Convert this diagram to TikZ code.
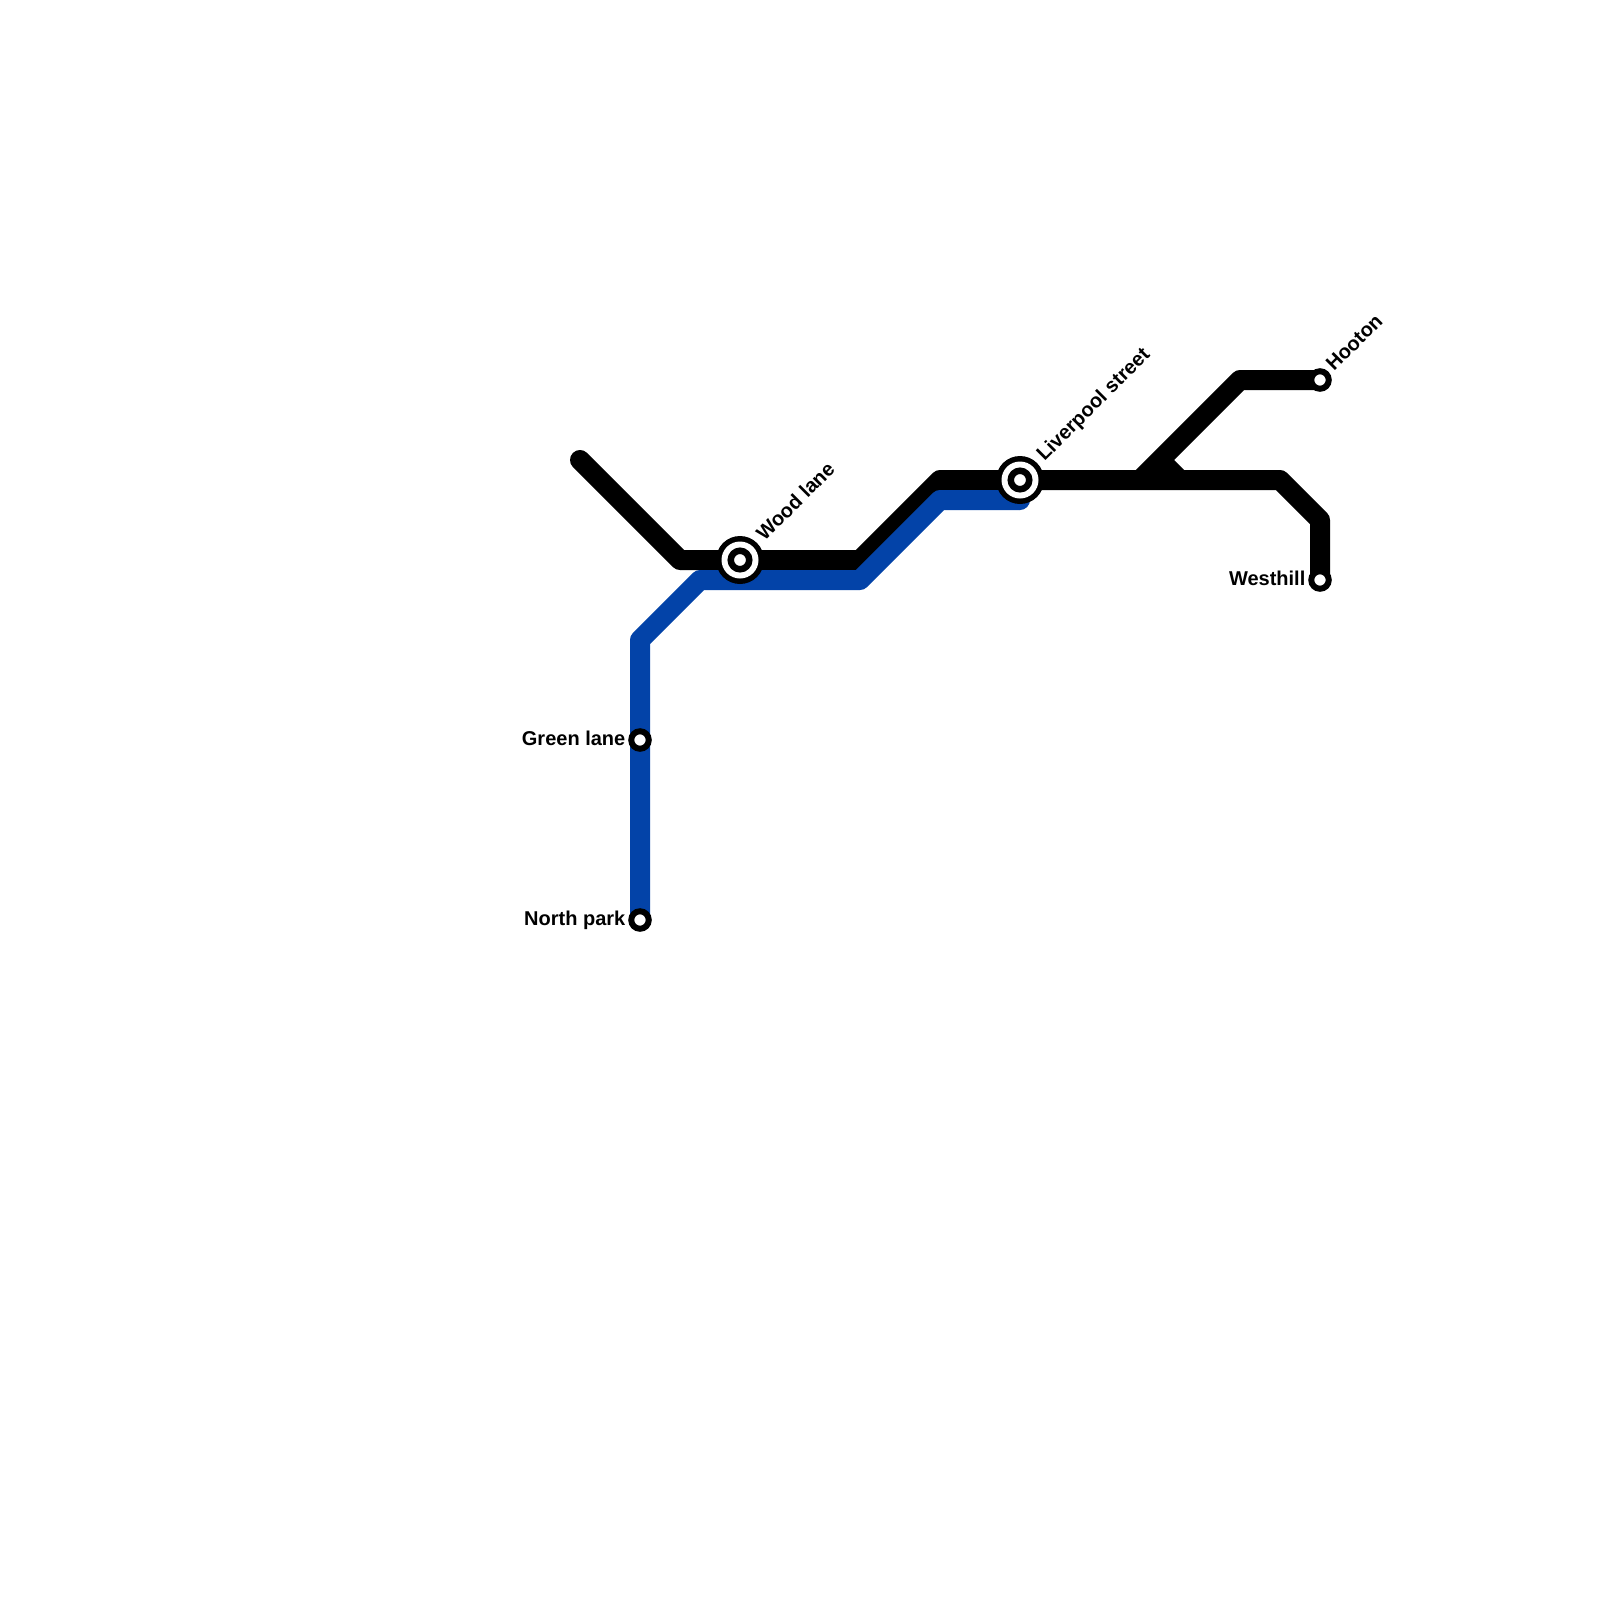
\documentclass[tikz,border=0pt]{standalone}
\usepackage{fontspec}
\setmainfont{Liberation Sans}
\definecolor{lineblue}{HTML}{0343A8}
\tikzset{
  trackline/.style={line width=20pt,line join=round,line cap=butt},
  smallstop/.style={circle,draw=black,fill=white,line width=6pt,minimum size=17.5pt,inner sep=0pt,outer sep=0pt},
  bigstopa/.style={circle,fill=black,minimum size=48pt,inner sep=0pt,outer sep=0pt},
  bigstopb/.style={circle,fill=white,minimum size=37pt,inner sep=0pt,outer sep=0pt},
  bigstopc/.style={circle,draw=black,fill=white,line width=6.5pt,minimum size=18.5pt,inner sep=0pt,outer sep=0pt},
  lbl/.style={font=\bfseries\fontsize{20pt}{24pt}\selectfont,inner sep=0pt,text=black},
  lblw/.style={lbl,anchor=base east},
  lbld/.style={lbl,anchor=base west,rotate=45}
}
\begin{document}
\begin{tikzpicture}[x=1pt,y=-1pt]
\useasboundingbox (0,0) rectangle (1600,1600);
\fill[white] (0,0) rectangle (1600,1600);
% stations
\coordinate (northpark) at (640,920);
\coordinate (greenlane) at (640,740);
\coordinate (woodlane) at (740,560);
\coordinate (liverpool) at (1020,480);
\coordinate (hooton) at (1320,380);
\coordinate (westhill) at (1320,580);
% blue bends
\coordinate (b1) at (640,640);
\coordinate (b2) at (700,580);
\coordinate (b3) at (860,580);
\coordinate (b4) at (940,500);
\coordinate (b5) at (1020,500);
% black bends
\coordinate (k0) at (580,460);
\coordinate (k1) at (680,560);
\coordinate (k2) at (860,560);
\coordinate (k3) at (940,480);
\coordinate (k4) at (1280,480);
\coordinate (k5) at (1320,520);
\coordinate (j0) at (1140,480);
\coordinate (j1) at (1240,380);
\coordinate (s0) at (1160,460);
\coordinate (s1) at (1180,480);
\draw[trackline,black] (k1) -- (k2) -- (k3) -- (k4) -- (k5) -- (westhill);
\draw[trackline,black,line cap=round] (k0) -- (k1);
\draw[trackline,black] (j0) -- (j1) -- (hooton);
\draw[trackline,black] (s0) -- (s1);
\draw[trackline,lineblue] (northpark) -- (b1) -- (b2) -- (b3) -- (b4) -- (b5);
\fill[lineblue] (b5) circle (10pt);
\node[smallstop] (nGreen) at (greenlane) {};
\node[smallstop] (nNorth) at (northpark) {};
\node[smallstop] (nHooton) at (hooton) {};
\node[smallstop] (nWest) at (westhill) {};
\node[bigstopa] (nWoodA) at (woodlane) {};
\node[bigstopb] (nWoodB) at (woodlane) {};
\node[bigstopc] (nWoodC) at (woodlane) {};
\node[bigstopa] (nLivA) at (liverpool) {};
\node[bigstopb] (nLivB) at (liverpool) {};
\node[bigstopc] (nLivC) at (liverpool) {};
\node[lblw] (tGreen) at (625.5,745) {Green lane};
\node[lblw] (tNorth) at (625.5,925) {North park};
\node[lblw] (tWest) at (1305.5,585) {Westhill};
\node[lbld] (tWood) at (764.5,542) {Wood lane};
\node[lbld] (tLiv) at (1044.5,462) {Liverpool street};
\node[lbld] (tHooton) at (1334,372) {Hooton};
\end{tikzpicture}
\end{document}
